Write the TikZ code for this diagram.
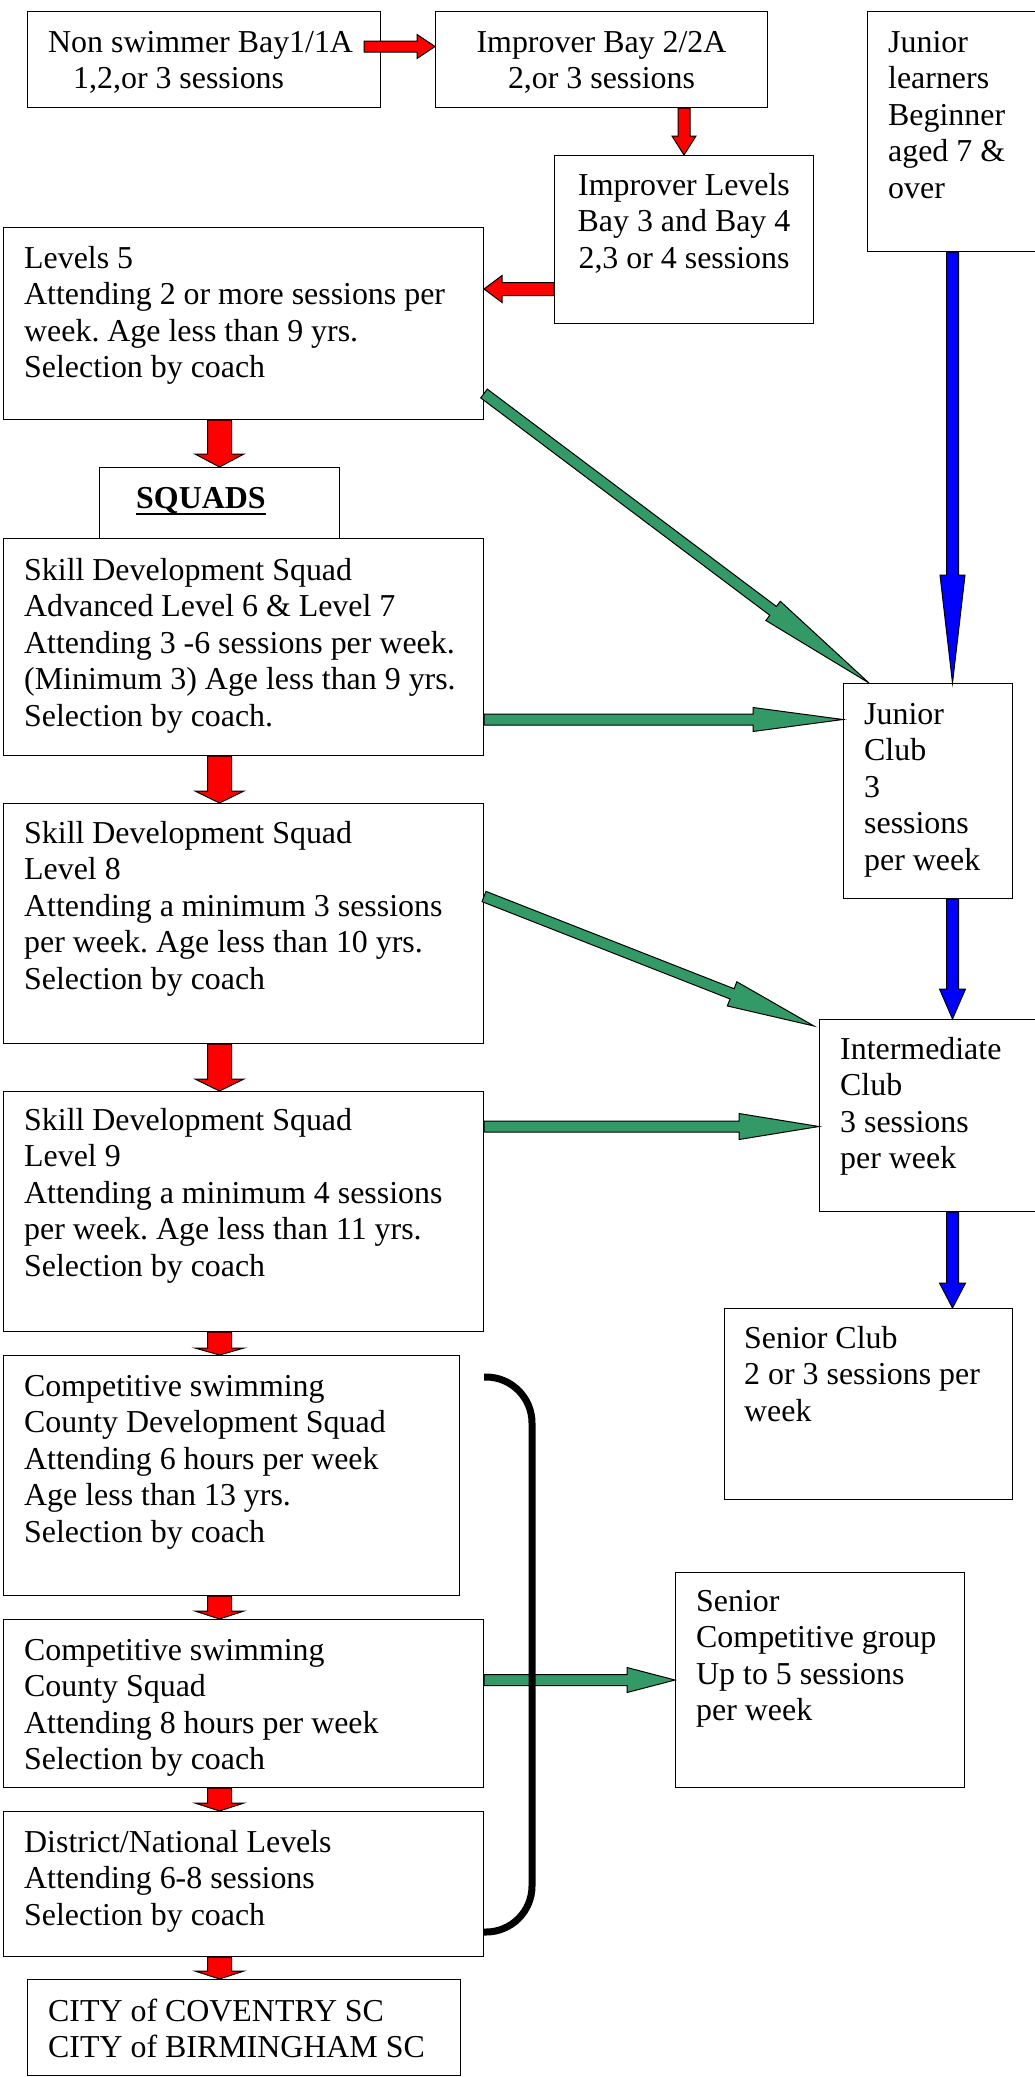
\documentclass[tikz,border=0pt]{standalone}
\usepackage{fontspec}
\setmainfont{Liberation Serif}
\usepackage{xcolor}
\usepackage{tikz}
\usetikzlibrary{calc, positioning}
\frenchspacing

\definecolor{seagreen}{RGB}{51,153,102}
\newcommand{\boxfont}{\fontsize{31.9}{36.6}\selectfont}
\newcommand{\boxtext}[2][l]{\begin{tabular}[t]{@{}#1@{}}#2\end{tabular}}
% block arrow: colour, from, to, half shaft, half head, head length
\newcommand{\blockarrow}[6]{%
    \coordinate (ba-a) at (#2);
    \coordinate (ba-b) at (#3);
    \coordinate (ba-c) at ($(ba-b)!#6!(ba-a)$);
    \draw[fill=#1, line width=1pt, line join=miter]
        ($(ba-a)!#4!90:(ba-b)$) -- ($(ba-c)!#4!-90:(ba-a)$) -- ($(ba-c)!#5!-90:(ba-a)$)
        -- (ba-b) -- ($(ba-c)!#5!90:(ba-a)$) -- ($(ba-c)!#4!90:(ba-a)$)
        -- ($(ba-a)!#4!-90:(ba-b)$) -- cycle;
}

\begin{document}
\begin{tikzpicture}[x=1pt, y=-1pt,
    box/.style={draw, line width=1pt, inner sep=0pt, anchor=north west},
    txt/.style={inner sep=0pt, anchor=base west, font=\boxfont}]
    \useasboundingbox (0,0) rectangle (1034,2077);

    % Learner boxes
    \node[box, minimum width=353pt, minimum height=96pt] (nonswim) at (27,11) {};
    \node[box, minimum width=332pt, minimum height=96pt] (imp2) at (435,11) {};
    \node[box, minimum width=259pt, minimum height=168pt] (implev) at (554,155) {};
    \node[box, minimum width=170pt, minimum height=240pt] (jlearn) at (867,11) {};
    \node[box, minimum width=480pt, minimum height=192pt] (lvl5) at (3,227) {};
    \node[box, minimum width=240pt, minimum height=71pt] (squads) at (99,467) {};

    % Squad boxes
    \node[box, minimum width=480pt, minimum height=217pt] (sds1) at (3,538) {};
    \node[box, minimum width=480pt, minimum height=240pt] (sds2) at (3,803) {};
    \node[box, minimum width=480pt, minimum height=240pt] (sds3) at (3,1091) {};
    \node[box, minimum width=456pt, minimum height=240pt] (cds) at (3,1355) {};
    \node[box, minimum width=480pt, minimum height=168pt] (cs) at (3,1619) {};
    \node[box, minimum width=480pt, minimum height=145pt] (dn) at (3,1811) {};
    \node[box, minimum width=433pt, minimum height=96pt] (city) at (27,1979) {};

    % Club boxes
    \node[box, minimum width=169pt, minimum height=215pt] (jclub) at (843,683) {};
    \node[box, minimum width=266pt, minimum height=192pt] (inter) at (819,1019) {};
    \node[box, minimum width=288pt, minimum height=191pt] (senclub) at (724,1308) {};
    \node[box, minimum width=289pt, minimum height=215pt] (scomp) at (675,1572) {};

    % Texts
    \node[txt] (nonswim-t) at ([shift={(21,41)}]nonswim.north west) {\boxtext{Non swimmer Bay1/1A\\\hspace*{25pt}1,2,or 3 sessions}};
    \node[txt, anchor=base] (imp2-t) at ([shift={(0,41)}]imp2.north) {\boxtext[c]{Improver Bay 2/2A\\2,or 3 sessions}};
    \node[txt, anchor=base] (implev-t) at ([shift={(0,40)}]implev.north) {\boxtext[c]{Improver Levels\\Bay 3 and Bay 4\\2,3 or 4 sessions}};
    \node[txt] (jlearn-t) at ([shift={(21,41)}]jlearn.north west) {\boxtext{Junior\\learners\\Beginner\\aged 7 \&\\over}};
    \node[txt] (lvl5-t) at ([shift={(21,41)}]lvl5.north west) {\boxtext{Levels 5\\Attending 2 or more sessions per\\week. Age less than 9 yrs.\\Selection by coach}};
    \node[txt] (squads-t) at ([shift={(37,41)}]squads.north west) {\textbf{SQUADS}};
    \draw[line width=2.7pt] ([yshift=-6pt]squads-t.base west) -- ([yshift=-6pt]squads-t.base east);
    \node[txt] (sds1-t) at ([shift={(21,42)}]sds1.north west) {\boxtext{Skill Development Squad\\Advanced Level 6 \& Level 7\\Attending 3 -6 sessions per week.\\(Minimum 3) Age less than 9 yrs.\\Selection by coach.}};
    \node[txt] (sds2-t) at ([shift={(21,40)}]sds2.north west) {\boxtext{Skill Development Squad\\Level 8\\Attending a minimum 3 sessions\\per week. Age less than 10 yrs.\\Selection by coach}};
    \node[txt] (sds3-t) at ([shift={(21,39)}]sds3.north west) {\boxtext{Skill Development Squad\\Level 9\\Attending a minimum 4 sessions\\per week. Age less than 11 yrs.\\Selection by coach}};
    \node[txt] (cds-t) at ([shift={(21,41)}]cds.north west) {\boxtext{Competitive swimming\\County Development Squad\\Attending 6 hours per week\\Age less than 13 yrs.\\Selection by coach}};
    \node[txt] (cs-t) at ([shift={(21,41)}]cs.north west) {\boxtext{Competitive swimming\\County Squad\\Attending 8 hours per week\\Selection by coach}};
    \node[txt] (dn-t) at ([shift={(21,41)}]dn.north west) {\boxtext{District/National Levels\\Attending 6-8 sessions\\Selection by coach}};
    \node[txt] (city-t) at ([shift={(21,42)}]city.north west) {\boxtext{CITY of COVENTRY SC\\CITY of BIRMINGHAM SC}};
    \node[txt] (jclub-t) at ([shift={(21,41)}]jclub.north west) {\boxtext{Junior\\Club\\3\\sessions\\per week}};
    \node[txt] (inter-t) at ([shift={(21,40)}]inter.north west) {\boxtext{Intermediate\\Club\\3 sessions\\per week}};
    \node[txt] (senclub-t) at ([shift={(20,40)}]senclub.north west) {\boxtext{Senior Club\\2 or 3 sessions per\\week}};
    \node[txt] (scomp-t) at ([shift={(21,39)}]scomp.north west) {\boxtext{Senior\\Competitive group\\Up to 5 sessions\\per week}};

    % Red arrows
    \blockarrow{red}{[shift={(-17,-13)}]nonswim.east}{[shift={(0,-13)}]imp2.west}{5.5pt}{12pt}{18pt}
    \blockarrow{red}{implev.north |- imp2.south}{implev.north}{6pt}{12pt}{19pt}
    \coordinate (lv-in) at ([shift={(0,-35)}]implev.south west);
    \blockarrow{red}{lv-in}{lv-in -| lvl5.east}{6.5pt}{13.5pt}{18pt}
    \foreach \a/\b/\h in {lvl5/squads/13, sds1/sds2/12, sds2/sds3/12, sds3/cds/7, cds/cs/8, cs/dn/8, dn/city/8} {
        \blockarrow{red}{squads.north |- \a.south}{squads.north |- \b.north}{12pt}{24.5pt}{\h pt}
    }

    % Green arrows
    \blockarrow{seagreen}{[shift={(0,70)}]lvl5.east}{[shift={(26,0)}]jclub.north west}{5.5pt}{12pt}{120pt}
    \coordinate (g-sds1) at ([shift={(0,72.5)}]sds1.east);
    \blockarrow{seagreen}{g-sds1}{g-sds1 -| jclub.west}{5.5pt}{12pt}{90pt}
    \blockarrow{seagreen}{[shift={(0,-27)}]sds2.east}{[shift={(-5,7)}]inter.north west}{5.5pt}{13pt}{88pt}
    \coordinate (g-sds3) at ([shift={(0,-85)}]sds3.east);
    \blockarrow{seagreen}{g-sds3}{g-sds3 -| inter.west}{5.5pt}{13pt}{80pt}
    \coordinate (g-cs) at (scomp.west -| cs.east);
    \blockarrow{seagreen}{g-cs}{scomp.west}{5.5pt}{12.5pt}{48pt}

    % Blue arrows
    \blockarrow{blue}{jlearn.south}{jlearn.south |- jclub.north}{6pt}{12.5pt}{108pt}
    \blockarrow{blue}{inter.north |- jclub.south}{inter.north}{6pt}{13pt}{30pt}
    \blockarrow{blue}{inter.south}{inter.south |- senclub.north}{6pt}{13pt}{25pt}

    % Bracket round the competitive squads
    \draw[line width=7pt, rounded corners=46pt] (484,1377) -- (532,1377) -- (532,1932) -- (484,1932);
\end{tikzpicture}
\end{document}
